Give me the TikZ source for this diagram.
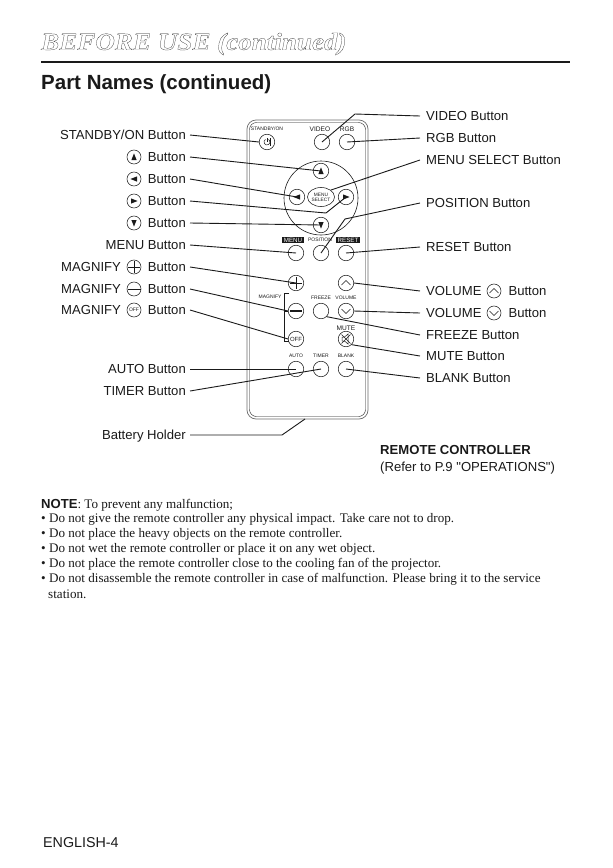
\documentclass[tikz,border=0pt]{standalone}
\usepackage{fontspec}
\setmainfont{Liberation Sans}
\newfontfamily\notefont{Liberation Serif}
\newfontfamily\capfont{Liberation Sans}
\newfontfamily\headfont[FakeStretch=1.105]{Liberation Serif}
\usetikzlibrary{arrows.meta,positioning,shapes.geometric}
\definecolor{pageInk}{HTML}{1A1A1A}
\definecolor{shellGray}{HTML}{6E6E6E}
\newcommand{\lsize}{\fontsize{13.1}{15}\selectfont}
\newcommand{\tinysize}{\fontsize{5}{6}\selectfont}
\tikzset{
  every picture/.style={text=pageInk},
  part label/.style={font=\lsize, inner ysep=0pt, text height=9pt, text depth=0pt},
  left label/.style={part label, anchor=east, inner xsep=4pt},
  right label/.style={part label, anchor=west, inner xsep=6pt},
  leader/.style={draw=pageInk, line width=0.9pt},
  rc btn/.style={circle, draw=pageInk, line width=0.55pt, minimum size=15.5pt, inner sep=0pt},
  icon btn/.style={circle, draw=pageInk, line width=0.55pt, minimum size=14pt, inner sep=0pt},
  rc text/.style={font=\tinysize, inner sep=0pt},
  rc mid/.style={font=\fontsize{6.6}{7}\selectfont, inner sep=0pt},
  rc tag/.style={font=\fontsize{6.2}{7}\selectfont, text=white, fill=pageInk, inner xsep=1.5pt, inner ysep=1pt},
  note line/.style={font=\notefont\fontsize{13.1}{15}\selectfont, anchor=west, inner sep=0pt}
}

\begin{document}
\begin{tikzpicture}[x=1pt,y=-1pt]
  \useasboundingbox (0,0) rectangle (613,868);
  \fill[white] (0,0) rectangle (613,868);

  % page header
  \node[anchor=west, inner sep=0pt, font=\headfont\bfseries\itshape\fontsize{24.5}{26}\selectfont] (title) at (41,44)
    {\special{pdf:code 1 Tr 0.2 w}BEFORE USE (continued)\special{pdf:code 0 Tr}};
  \coordinate (ruleL) at (41,62);
  \coordinate (ruleR) at (570,62);
  \draw[pageInk, line width=1.5pt] (ruleL) -- (ruleR);
  \node[anchor=west, inner sep=0pt, font=\bfseries\fontsize{20.5}{24}\selectfont] (section) at (41,84) {Part Names (continued)};

  % remote shell
  \draw[shellGray, line width=0.7pt, rounded corners=9pt] (247,120) rectangle (368,419);
  \draw[pageInk, line width=0.4pt, rounded corners=7pt] (249.5,122.5) rectangle (365.5,416.5);
  \node[circle, draw=pageInk, line width=0.6pt, minimum size=74pt, inner sep=0pt] (dial) at (321,198) {};

  % buttons
  \foreach \n/\x/\y in {standby/267/142, video/322/142, rgb/347/142, up/321/171, left/297/197,
    right/346/197, down/321/225, menu/296/253, position/321/253, reset/346/253,
    plus/296/283, minus/296/311, off/296/339, volup/346/283, voldn/346/311, freeze/321/311,
    mute/346/339, auto/296/369, timer/321/369, blank/346/369}{
    \node[rc btn] (\n) at (\x,\y) {};
  }
  \node[ellipse, draw=pageInk, line width=0.55pt, minimum width=27pt, minimum height=19pt, inner sep=0pt,
    align=center, font=\fontsize{4.8}{5}\selectfont] (select) at (321,197) {MENU\\SELECT};

  % printing on the remote
  \node[rc text] (tStandby) at (267,129) {STANDBY/ON};
  \node[rc mid] (tVideo) at (320,129) {VIDEO};
  \node[rc mid] (tRgb) at (347,129) {RGB};
  \node[rc tag] (tMenu) at (293,240) {MENU};
  \node[rc text] (tPosition) at (320,240) {POSITION};
  \node[rc tag] (tReset) at (348,240) {RESET};
  \node[rc text] (tMagnify) at (270,297) {MAGNIFY};
  \node[rc text] (tFreeze) at (321,298) {FREEZE};
  \node[rc text] (tVolume) at (346,298) {VOLUME};
  \node[rc mid] (tMute) at (346,328) {MUTE};
  \node[rc text] (tAuto) at (296,356) {AUTO};
  \node[rc text] (tTimer) at (321,356) {TIMER};
  \node[rc text] (tBlank) at (346,356) {BLANK};
  \node[font=\fontsize{6}{7}\selectfont, inner sep=0pt] (tOff) at (off) {OFF};

  % magnify bracket
  \coordinate (brTop) at (284,293);
  \coordinate (brTopEnd) at (289,293);
  \coordinate (brLow) at (284,341);
  \coordinate (brLowEnd) at (289,341);
  \coordinate (brMid) at (284,311);
  \draw[pageInk, line width=0.7pt] (brTopEnd) -- (brTop) -- (brLow) -- (brLowEnd);
  \draw[pageInk, line width=0.7pt] (brMid) -- (minus.west);

  % left labels
  \node[left label] (lStandby) at (190,135) {STANDBY/ON Button};
  \foreach \n/\y in {lUp/157, lLeft/179, lRight/201, lDown/223}{
    \node[left label] (\n) at (190,\y) {Button};
  }
  \node[left label] (lMenu) at (190,245) {MENU Button};
  \foreach \n/\y in {lPlus/267, lMinus/289, lOff/310}{
    \node[left label] (\n) at (190,\y) {MAGNIFY\hspace{27pt}Button};
  }
  \node[left label] (lAuto) at (190,369) {AUTO Button};
  \node[left label] (lTimer) at (190,391) {TIMER Button};
  \node[left label] (lBattery) at (190,435) {Battery Holder};

  % icons in the left labels
  \foreach \n/\y in {iUp/157, iLeft/179, iRight/201, iDown/223, iPlus/267, iMinus/289, iOff/310}{
    \node[icon btn] (\n) at (134,\y) {};
  }
  \node[font=\fontsize{5}{6}\selectfont, inner sep=0pt] (iOffText) at (iOff) {OFF};

  % right labels
  \foreach \n/\y/\t in {rVideo/116/VIDEO Button, rRgb/138/RGB Button, rSelect/160/MENU SELECT Button,
    rPosition/203/POSITION Button, rReset/247/RESET Button, rFreeze/335/FREEZE Button,
    rMute/356/MUTE Button, rBlank/378/BLANK Button}{
    \node[right label] (\n) at (420,\y) {\t};
  }
  \foreach \n/\y in {rVolup/291, rVoldn/313}{
    \node[right label] (\n) at (420,\y) {VOLUME\hspace{27pt}Button};
  }
  \node[icon btn] (iVolup) at (494,291) {};
  \node[icon btn] (iVoldn) at (494,313) {};

  % arrow heads on the cursor buttons
  \foreach \b/\a in {up/90, left/180, right/0, down/-90, iUp/90, iLeft/180, iRight/0, iDown/-90}{
    \fill[pageInk, shift={(\b.center)}, rotate=\a] (3.6,0) -- (-3,-2.6) -- (-3,2.6) -- cycle;
  }

  % plus, minus, chevrons
  \foreach \b in {plus, iPlus}{
    \draw[pageInk, line width=0.9pt, shift={(\b.center)}] (-6,0) -- (6,0) (0,-6) -- (0,6);
  }
  \draw[pageInk, line width=1.8pt, shift={(minus.center)}] (-6,0) -- (6,0);
  \draw[pageInk, line width=0.9pt, shift={(iMinus.center)}] (-6.5,0) -- (6.5,0);
  \foreach \b in {volup, iVolup}{
    \draw[pageInk, line width=0.6pt, shift={(\b.center)}] (-4.5,2) -- (0,-2.5) -- (4.5,2);
  }
  \foreach \b in {voldn, iVoldn}{
    \draw[pageInk, line width=0.6pt, shift={(\b.center)}] (-4.5,-2) -- (0,2.5) -- (4.5,-2);
  }

  % power and mute symbols
  \draw[pageInk, line width=0.5pt, shift={(standby.center)}] (-1.5,-2.6) arc[start angle=120, end angle=420, radius=3pt];
  \draw[pageInk, line width=0.6pt, shift={(standby.center)}] (0,-4) -- (0,0) (3.2,-4) -- (3.2,4);
  \draw[pageInk, line width=0.5pt, shift={(mute.center)}] (-4,-2) -- (-1.5,-2) -- (2,-5) -- (2,5) -- (-1.5,2) -- (-4,2) -- cycle;
  \draw[pageInk, line width=0.5pt, shift={(mute.center)}] (-4.5,-4.5) -- (4.5,4.5) (-4.5,4.5) -- (4.5,-4.5);

  % leaders from the left
  \foreach \a/\b in {lStandby/standby.west, lUp/up.center, lLeft/left.center, lDown/down.center,
    lMenu/menu.center, lPlus/plus.center, lMinus/minus.west, lOff/off.west, lAuto/auto.center, lTimer/timer.center}{
    \draw[leader] (\a.east) -- (\b);
  }
  \coordinate (rightBend) at (326,213);
  \draw[leader] (lRight.east) -- (rightBend) -- (right.center);
  \coordinate (batteryBend) at (282,435);
  \coordinate (batteryEnd) at (305,419);
  \draw[leader] (lBattery.east) -- (batteryBend) -- (batteryEnd);

  % leaders from the right
  \coordinate (videoBend) at (355,114);
  \draw[leader] (rVideo.west) -- (videoBend) -- (video.center);
  \coordinate (positionBend) at (345,219);
  \draw[leader] (rPosition.west) -- (positionBend) -- (position.center);
  \foreach \a/\b in {rRgb/rgb.center, rSelect/select.north east, rReset/reset.center, rVolup/volup.east,
    rVoldn/voldn.east, rFreeze/freeze.south east, rMute/mute.south east, rBlank/blank.center}{
    \draw[leader] (\a.west) -- (\b);
  }

  % remote caption
  \node[anchor=west, inner sep=0pt, font=\bfseries\fontsize{13.1}{15}\selectfont] (capA) at (380,450) {REMOTE CONTROLLER};
  \node[anchor=west, inner sep=0pt, font=\capfont\lsize] (capB) at (380,468) {(Refer to P.9 "OPERATIONS")};

  % note
  \node[note line] (noteHead) at (41,505) {{\rmfamily\bfseries NOTE}: To prevent any malfunction;};
  \foreach \n/\y/\t in {nA/519.5/Do not give the remote controller any physical impact. Take care not to drop.,
    nB/534.5/Do not place the heavy objects on the remote controller.,
    nC/549.5/Do not wet the remote controller or place it on any wet object.,
    nD/564.5/Do not place the remote controller close to the cooling fan of the projector.,
    nE/579.5/Do not disassemble the remote controller in case of malfunction. Please bring it to the service}{
    \node[note line] (\n) at (41,\y) {• \t};
  }
  \node[note line] (nEnd) at (48,594.5) {station.};

  \node[anchor=west, inner sep=0pt, font=\fontsize{14.3}{16}\selectfont] (footer) at (43,843) {ENGLISH-4};
\end{tikzpicture}
\end{document}
